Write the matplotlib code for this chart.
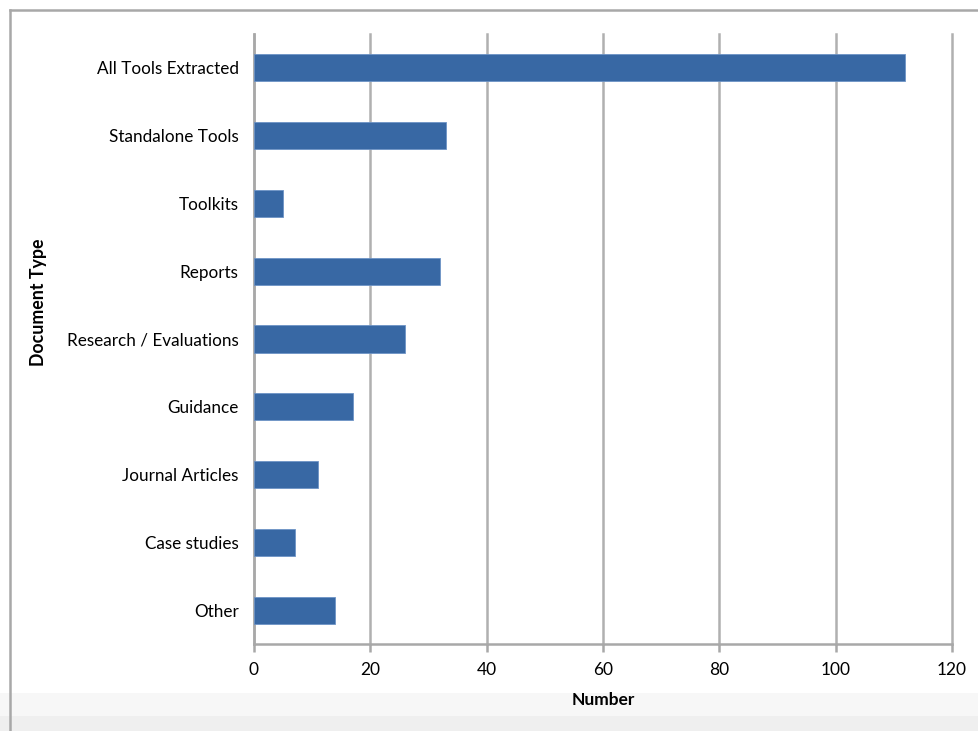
import matplotlib.pyplot as plt
from matplotlib.patches import Rectangle
from matplotlib.lines import Line2D

# document counts by type
categories = ['All Tools Extracted', 'Standalone Tools', 'Toolkits', 'Reports',
              'Research / Evaluations', 'Guidance', 'Journal Articles',
              'Case studies', 'Other']
counts = [112, 33, 5, 32, 26, 17, 11, 7, 14]
xticks = [0, 20, 40, 60, 80, 100, 120]

plt.rcParams['font.family'] = ['Lato', 'DejaVu Sans']

fig = plt.figure(figsize=(9.79, 7.31), dpi=100)
fig.patch.set_facecolor('white')

# light grey band along the bottom edge
fig.patches.append(Rectangle((0, 0), 1, 0.02, transform=fig.transFigure,
                             facecolor='#efefef', edgecolor='none', zorder=-2))
fig.patches.append(Rectangle((0, 0.02), 1, 0.032, transform=fig.transFigure,
                             facecolor='#f7f7f7', edgecolor='none', zorder=-2))

# frame around the chart (left and top)
fig.lines.append(Line2D([10/979, 10/979], [0, 1 - 10/731], transform=fig.transFigure,
                        color='#a8a8a8', lw=1.8, zorder=-1))
fig.lines.append(Line2D([10/979, 1], [1 - 10/731, 1 - 10/731], transform=fig.transFigure,
                        color='#a8a8a8', lw=1.8, zorder=-1))

ax = fig.add_axes([254/979, (731-644)/731, (952-254)/979, (644-34)/731])
ax.patch.set_alpha(0)
ypos = list(range(len(categories)))
ax.barh(ypos, counts, height=0.4, color='#3868a4', edgecolor='#6d93c6',
        linewidth=0.6, zorder=3)

ax.set_ylim(len(categories) - 0.5, -0.5)
ax.set_xlim(0, 120)
ax.set_yticks(ypos)
ax.set_yticklabels(categories, fontsize=12.3)
ax.set_xticks(xticks)
ax.set_xticklabels([str(t) for t in xticks], fontsize=12.5)

ax.grid(axis='x', color='#b0b0b0', linewidth=1.8, zorder=0)
for gl in ax.get_xgridlines():
    gl.set_clip_on(False)
for s in ['top', 'right']:
    ax.spines[s].set_visible(False)
for s in ['left', 'bottom']:
    ax.spines[s].set_color('#a8a8a8')
    ax.spines[s].set_linewidth(1.8)
ax.tick_params(axis='y', length=0, pad=11)
ax.tick_params(axis='x', length=6, width=1.8, color='#a8a8a8', pad=7)

ax.set_xlabel('Number', fontsize=12.5, fontweight='bold', labelpad=10)
ax.set_ylabel('Document Type', fontsize=12.8, fontweight='bold')
ax.yaxis.set_label_coords(-0.297, 0.56)

fig.savefig('out.png', dpi=100)
